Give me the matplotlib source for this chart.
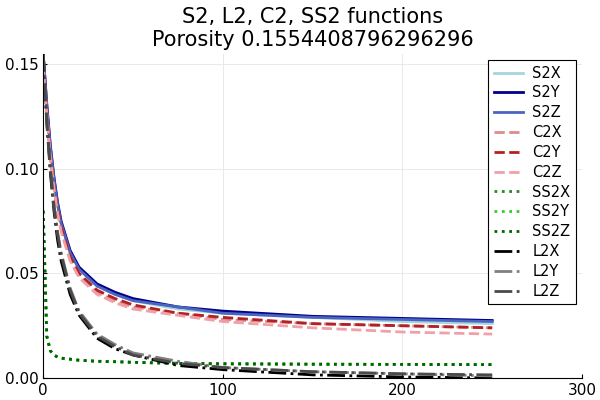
import matplotlib
matplotlib.use("Agg")
import matplotlib.pyplot as plt

porosity = 0.1554408796296296

x = [0, 2, 4, 6, 8, 10, 15, 20, 30, 40, 50, 75, 100, 150, 200, 250]

s2x = [0.155, 0.130, 0.110, 0.095, 0.083, 0.074, 0.060, 0.052, 0.044, 0.040, 0.037, 0.033, 0.031, 0.029, 0.027, 0.026]
s2y = [0.155, 0.131, 0.111, 0.096, 0.084, 0.075, 0.061, 0.053, 0.045, 0.041, 0.038, 0.034, 0.032, 0.0295, 0.0285, 0.0275]
s2z = [0.155, 0.130, 0.110, 0.095, 0.083, 0.074, 0.060, 0.052, 0.044, 0.040, 0.037, 0.034, 0.031, 0.029, 0.028, 0.027]
c2x = [0.150, 0.126, 0.106, 0.091, 0.080, 0.071, 0.057, 0.049, 0.041, 0.037, 0.034, 0.031, 0.028, 0.026, 0.025, 0.024]
c2y = [0.150, 0.127, 0.107, 0.092, 0.081, 0.072, 0.058, 0.050, 0.042, 0.038, 0.035, 0.031, 0.029, 0.026, 0.025, 0.024]
c2z = [0.150, 0.126, 0.106, 0.091, 0.079, 0.070, 0.056, 0.048, 0.040, 0.036, 0.033, 0.030, 0.027, 0.024, 0.022, 0.021]
ss2x = [0.080, 0.020, 0.013, 0.011, 0.010, 0.0095, 0.009, 0.0085, 0.008, 0.0078, 0.0075, 0.007, 0.0068, 0.0066, 0.0065, 0.0064]
ss2y = [0.080, 0.020, 0.013, 0.011, 0.010, 0.0095, 0.009, 0.0085, 0.008, 0.0078, 0.0075, 0.007, 0.0068, 0.0066, 0.0065, 0.0064]
ss2z = [0.080, 0.020, 0.013, 0.011, 0.010, 0.0095, 0.009, 0.0085, 0.008, 0.0078, 0.0075, 0.007, 0.0068, 0.0066, 0.0065, 0.0064]
l2x = [0.155, 0.122, 0.098, 0.080, 0.066, 0.056, 0.040, 0.030, 0.019, 0.014, 0.011, 0.006, 0.004, 0.0015, 0.0005, 0.0]
l2y = [0.155, 0.124, 0.101, 0.083, 0.070, 0.060, 0.043, 0.032, 0.021, 0.016, 0.012, 0.008, 0.005, 0.003, 0.002, 0.001]
l2z = [0.155, 0.123, 0.100, 0.082, 0.069, 0.059, 0.042, 0.031, 0.020, 0.015, 0.011, 0.007, 0.005, 0.003, 0.002, 0.0015]

series = [
    ("S2X", s2x, "#a6d5dd", "-"),
    ("S2Y", s2y, "#00008b", "-"),
    ("S2Z", s2z, "#4b64c0", "-"),
    ("C2X", c2x, "#e08a8a", "--"),
    ("C2Y", c2y, "#b22222", "--"),
    ("C2Z", c2z, "#f0a0a8", "--"),
    ("SS2X", ss2x, "#228b22", ":"),
    ("SS2Y", ss2y, "#32cd32", ":"),
    ("SS2Z", ss2z, "#006400", ":"),
    ("L2X", l2x, "#000000", "-."),
    ("L2Y", l2y, "#808080", "-."),
    ("L2Z", l2z, "#4a4a4a", "-."),
]

fig, ax = plt.subplots(figsize=(6, 4), dpi=100)
for name, y, col, ls in series:
    ax.plot(x, y, color=col, linestyle=ls, linewidth=2, label=name)

ax.set_xlim(0, 300)
ax.set_ylim(0, 0.155)
ax.set_xticks([0, 100, 200, 300])
ax.set_yticks([0.0, 0.05, 0.10, 0.15])
ax.set_yticklabels(["0.00", "0.05", "0.10", "0.15"])
ax.grid(True, color="#e6e6e6", linewidth=0.6)
for s in ("top", "right"):
    ax.spines[s].set_visible(False)
ax.tick_params(direction="in", length=3, labelsize=11)
ax.set_title(f"S2, L2, C2, SS2 functions\nPorosity {porosity}", fontsize=15, linespacing=1.15)
leg = ax.legend(loc="upper right", fontsize=10.5, fancybox=False, framealpha=1,
                edgecolor="black", handlelength=2.0, handletextpad=0.6,
                borderaxespad=0.4, labelspacing=0.33)
leg.get_frame().set_linewidth(0.8)
fig.subplots_adjust(left=0.072, right=0.97, top=0.865, bottom=0.055)
fig.savefig("out.png")
